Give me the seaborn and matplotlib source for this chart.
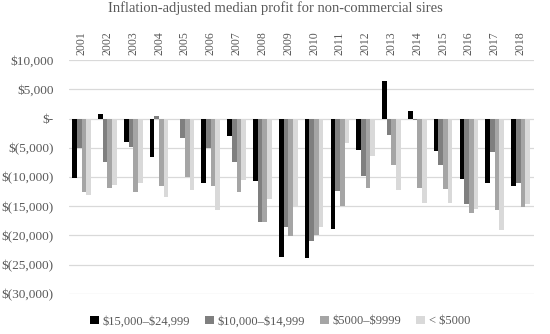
import matplotlib
matplotlib.use("Agg")
import matplotlib.pyplot as plt
import pandas as pd
import seaborn as sns
from matplotlib.ticker import FuncFormatter

# --- Data ---
years = [str(y) for y in range(2001, 2019)]
series = ["$15,000\u2013$24,999", "$10,000\u2013$14,999", "$5000\u2013$9999", "< $5000"]

profit_15k_25k = [-10100, 800, -4000, -6600, -100, -11100, -3000, -10600, -23700,
                  -23900, -18900, -5400, 6500, 1300, -5600, -10400, -11100, -11600]
profit_10k_15k = [-5000, -7400, -4800, 500, -3400, -5100, -7500, -17700, -18600,
                  -20900, -12400, -9900, -2800, -300, -8000, -14700, -5700, -11000]
profit_5k_10k = [-12600, -11900, -12500, -11600, -10000, -11600, -12500, -17700, -20100,
                 -19900, -15000, -11800, -8000, -11900, -12100, -16200, -15600, -15100]
profit_under_5k = [-13100, -11300, -11100, -13400, -12200, -15600, -10500, -13700, -14900,
                   -18600, -4100, -6400, -12300, -14400, -14400, -15500, -19100, -14600]

colors = ["#000000", "#7f7f7f", "#a5a5a5", "#d9d9d9"]
text_grey = "#595959"

df = pd.DataFrame({
    "year": years * 4,
    "group": [s for s in series for _ in years],
    "profit": profit_15k_25k + profit_10k_15k + profit_5k_10k + profit_under_5k,
})

sns.set_theme(style="white")
plt.rcParams["font.family"] = ["Liberation Serif", "DejaVu Serif"]

fig, ax = plt.subplots(figsize=(5.5, 3.34), dpi=100)
fig.subplots_adjust(left=0.125, right=0.97, top=0.82, bottom=0.12)

sns.barplot(data=df, x="year", y="profit", hue="group", hue_order=series,
            palette=colors, width=0.72, saturation=1, ax=ax, linewidth=0)

ax.set_ylim(-30000, 10000)
ax.set_yticks(range(-30000, 10001, 5000))


def dollars(v, _pos):
    if v == 0:
        return "$-"
    if v < 0:
        return f"$({abs(int(v)):,})"
    return f"${int(v):,}"


ax.yaxis.set_major_formatter(FuncFormatter(dollars))
ax.grid(axis="y", color="#d9d9d9", linewidth=0.9)
ax.set_axisbelow(True)
ax.xaxis.tick_top()
ax.tick_params(axis="x", length=0, rotation=90, labelsize=8.5, labelcolor=text_grey, pad=4)
ax.tick_params(axis="y", length=0, labelsize=9.5, labelcolor=text_grey, pad=11)
ax.set_xlabel("")
ax.set_ylabel("")
sns.despine(ax=ax, left=True, bottom=True, top=True, right=True)

fig.suptitle("Inflation-adjusted median profit for non-commercial sires",
             fontsize=10.5, color=text_grey, y=0.995)

handles, labels = ax.get_legend_handles_labels()
labels = [lab.replace("$", r"\$") for lab in labels]
ax.legend(handles, labels, loc="lower center", bbox_to_anchor=(0.455, -0.165), ncol=4,
          frameon=False, fontsize=9, labelcolor=text_grey, handlelength=0.7,
          handleheight=0.7, handletextpad=0.3, columnspacing=1.2, borderaxespad=0)

fig.savefig("out.png", dpi=100)
